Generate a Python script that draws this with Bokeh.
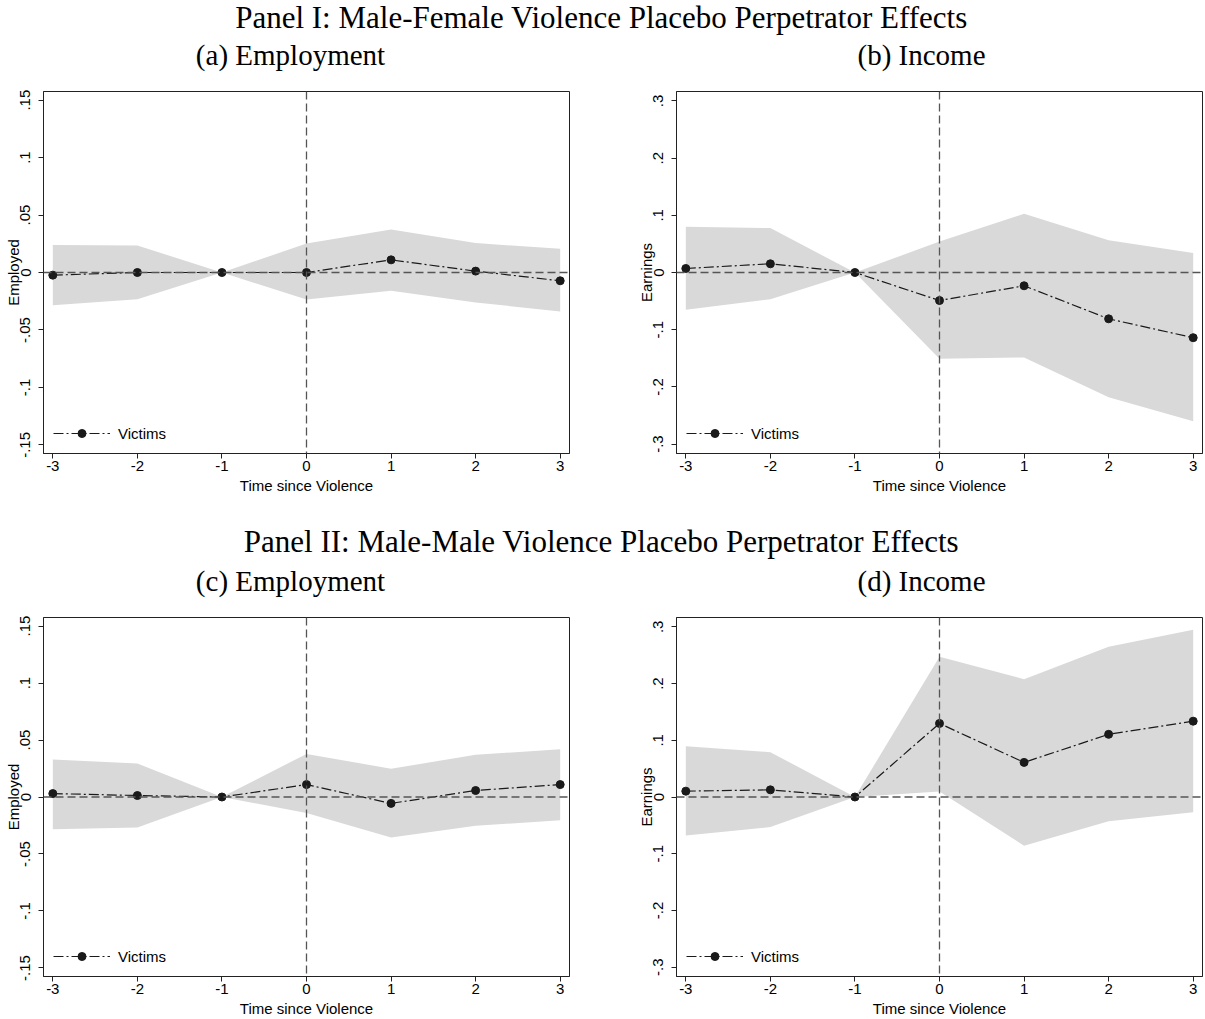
from bokeh.plotting import figure
from bokeh.models import Range1d, Span, Label, FixedTicker, Legend, LegendItem
from bokeh.layouts import column, row
from bokeh.embed import file_html
from bokeh.resources import INLINE

# ---------------- data ----------------
periods = [-3, -2, -1, 0, 1, 2, 3]
x_tick_labels = ["-3", "-2", "-1", "0", "1", "2", "3"]

emp_ticks = [-0.15, -0.1, -0.05, 0.0, 0.05, 0.1, 0.15]
emp_tick_labels = ["-.15", "-.1", "-.05", "0", ".05", ".1", ".15"]
earn_ticks = [-0.3, -0.2, -0.1, 0.0, 0.1, 0.2, 0.3]
earn_tick_labels = ["-.3", "-.2", "-.1", "0", ".1", ".2", ".3"]

# Panel I (a) Employment, male-female
coef_a = [-0.0023, 0.0, 0.0, 0.0, 0.011, 0.0012, -0.0072]
lo_a = [-0.0285, -0.0232, 0.0, -0.0235, -0.0159, -0.026, -0.034]
hi_a = [0.024, 0.0235, 0.0, 0.0252, 0.0374, 0.0256, 0.0206]
# Panel I (b) Income, male-female
coef_b = [0.007, 0.0152, 0.0, -0.049, -0.0232, -0.081, -0.114]
lo_b = [-0.065, -0.0466, 0.0, -0.151, -0.1485, -0.218, -0.260]
hi_b = [0.080, 0.0776, 0.0, 0.054, 0.1026, 0.0566, 0.034]
# Panel II (c) Employment, male-male
coef_c = [0.003, 0.0013, 0.0, 0.0109, -0.0056, 0.0057, 0.0109]
lo_c = [-0.0283, -0.0268, 0.0, -0.014, -0.0355, -0.0253, -0.0204]
hi_c = [0.033, 0.0295, 0.0, 0.0378, 0.0248, 0.037, 0.042]
# Panel II (d) Income, male-male
coef_d = [0.0103, 0.0126, 0.0, 0.1297, 0.061, 0.1105, 0.1337]
lo_d = [-0.068, -0.053, 0.0, 0.0097, -0.0858, -0.0428, -0.027]
hi_d = [0.0895, 0.079, 0.0, 0.2473, 0.2078, 0.2648, 0.295]

panel1_title = "Panel I: Male-Female Violence Placebo Perpetrator Effects"
panel2_title = "Panel II: Male-Male Violence Placebo Perpetrator Effects"
sub_titles = ["(a) Employment", "(b) Income", "(c) Employment", "(d) Income"]
x_label = "Time since Violence"
series_label = "Victims"

SANS = "Liberation Sans"
SERIF = "Liberation Serif"
FS = "15px"


def make_panel(coef, lo, hi, ylabel, yticks, ylabels, ylim, width, height,
               mbl, mbr, mbt, mbb):
    p = figure(width=width, height=height, output_backend="svg",
               toolbar_location=None,
               x_range=Range1d(-3.11, 3.11), y_range=Range1d(-ylim, ylim),
               min_border_left=mbl, min_border_right=mbr,
               min_border_top=mbt, min_border_bottom=mbb)
    p.grid.visible = False
    p.outline_line_color = "#222222"
    p.outline_line_width = 1
    p.background_fill_color = "white"
    p.border_fill_color = "white"

    p.varea(x=periods, y1=lo, y2=hi, fill_color="#d9d9d9", fill_alpha=1.0)
    p.add_layout(Span(location=0, dimension="width", line_color="#555555",
                      line_dash="8 4", line_width=1.3))
    p.add_layout(Span(location=0, dimension="height", line_color="#555555",
                      line_dash="8 4", line_width=1.3))
    ln = p.line(periods, coef, line_color="#1a1a1a", line_width=1.2,
                line_dash="10 3 2 3")
    sc = p.scatter(periods, coef, size=8, fill_color="#1a1a1a",
                   line_color="#1a1a1a", marker="circle")

    leg = Legend(items=[LegendItem(label=series_label, renderers=[ln, sc])],
                 location="bottom_left")
    leg.background_fill_alpha = 0
    leg.border_line_alpha = 0
    leg.margin = 2
    leg.padding = 8
    leg.glyph_width = 57
    leg.glyph_height = 20
    leg.label_standoff = 8
    leg.label_text_font = SANS
    leg.label_text_font_size = FS
    leg.label_text_color = "black"
    p.add_layout(leg)

    for ax in (p.xaxis[0], p.yaxis[0]):
        ax.axis_line_color = "#222222"
        ax.major_tick_line_color = "#222222"
        ax.major_tick_out = 5
        ax.major_tick_in = 0
        ax.minor_tick_line_color = None
        ax.major_label_text_font = SANS
        ax.major_label_text_font_size = FS
        ax.major_label_text_color = "black"
        ax.axis_label_text_font = SANS
        ax.axis_label_text_font_size = FS
        ax.axis_label_text_font_style = "normal"
        ax.axis_label_text_color = "black"

    p.xaxis.major_label_standoff = 2
    p.xaxis.axis_label_standoff = 3
    p.yaxis.major_label_standoff = 8
    p.yaxis.axis_label_standoff = -4

    p.xaxis.ticker = FixedTicker(ticks=periods)
    p.xaxis.major_label_overrides = {t: s for t, s in zip(periods, x_tick_labels)}
    p.xaxis.axis_label = x_label
    p.yaxis.ticker = FixedTicker(ticks=yticks)
    p.yaxis.major_label_overrides = {t: s for t, s in zip(yticks, ylabels)}
    p.yaxis.major_label_orientation = "vertical"
    p.yaxis.axis_label = ylabel
    return p


def make_header(title, sub_left, sub_right, height, ty, sy):
    h = figure(width=1205, height=height, output_backend="svg",
               toolbar_location=None, x_range=Range1d(0, 1205),
               y_range=Range1d(0, height), x_axis_location=None,
               y_axis_location=None, min_border=0)
    h.grid.visible = False
    h.outline_line_color = None
    h.border_fill_color = "white"
    h.background_fill_color = "white"
    for txt, x, y, fs in ((title, 601, ty, "31px"), (sub_left, 290, sy, "29px"),
                          (sub_right, 921, sy, "29px")):
        h.add_layout(Label(x=x, y=y, x_units="screen", y_units="screen",
                           text=txt, text_align="center",
                           text_baseline="middle",
                           text_font=SERIF, text_font_size=fs,
                           text_color="black"))
    return h


FW = 526
FH1 = 362
FH2 = 361
h1 = make_header(panel1_title, sub_titles[0], sub_titles[1], 81, 64, 27)
fa = make_panel(coef_a, lo_a, hi_a, "Employed", emp_ticks, emp_tick_labels, 0.1575,
                43 + FW + 12, 10 + FH1 + 47, 43, 12, 10, 47)
fb = make_panel(coef_b, lo_b, hi_b, "Earnings", earn_ticks, earn_tick_labels, 0.3165,
                95 + FW + 3, 10 + FH1 + 47, 95, 3, 10, 47)
h2 = make_header(panel2_title, sub_titles[2], sub_titles[3], 107, 66, 27)
fc = make_panel(coef_c, lo_c, hi_c, "Employed", emp_ticks, emp_tick_labels, 0.1575,
                43 + FW + 12, 10 + FH2 + 41, 43, 12, 10, 41)
fd = make_panel(coef_d, lo_d, hi_d, "Earnings", earn_ticks, earn_tick_labels, 0.3165,
                95 + FW + 3, 10 + FH2 + 41, 95, 3, 10, 41)

p = column(h1, row(fa, fb), h2, row(fc, fd))
open("out.html", "w").write(file_html(p, INLINE))
